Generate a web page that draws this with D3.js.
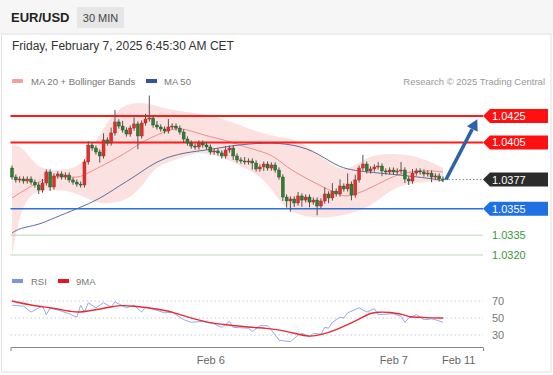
<!DOCTYPE html>
<html>
<head>
<meta charset="utf-8">
<script src="https://cdn.jsdelivr.net/npm/d3@7"></script>
<style>
  html, body { margin: 0; padding: 0; background: #fff; }
  body { font-family: "Liberation Sans", Arial, sans-serif; }
</style>
</head>
<body>
<div id="chart"></div>
<script>
// candle closes (30 min bars), open of each bar = previous close
const firstOpen = 1.03857;
const closes = [
  1.03789, 1.03767, 1.03774, 1.03759, 1.03774, 1.03751, 1.03729, 1.03691, 1.03744, 1.03827,
  1.03714, 1.03797, 1.03812, 1.03789, 1.03804, 1.03767, 1.03751, 1.03736, 1.03729, 1.03903,
  1.04031, 1.04008, 1.03978, 1.03948, 1.04069, 1.04046, 1.04122, 1.04205, 1.04174, 1.04144,
  1.04114, 1.04159, 1.04190, 1.04099, 1.04197, 1.04227, 1.04235, 1.04182, 1.04167, 1.04152,
  1.04137, 1.04167, 1.04174, 1.04159, 1.04129, 1.04076, 1.04046, 1.04023, 1.04016, 1.04046,
  1.04031, 1.04016, 1.03978, 1.03986, 1.03971, 1.03948, 1.03993, 1.04008, 1.03948, 1.03918,
  1.03910, 1.03903, 1.03910, 1.03895, 1.03850, 1.03865, 1.03887, 1.03857, 1.03880, 1.03842,
  1.03789, 1.03638, 1.03608, 1.03623, 1.03593, 1.03646, 1.03615, 1.03638, 1.03600, 1.03615,
  1.03570, 1.03608, 1.03661, 1.03631, 1.03683, 1.03661, 1.03721, 1.03699, 1.03736, 1.03653,
  1.03767, 1.03857, 1.03887, 1.03835, 1.03850, 1.03865, 1.03872, 1.03835, 1.03827, 1.03842,
  1.03827, 1.03835, 1.03842, 1.03774, 1.03759, 1.03819, 1.03835, 1.03827, 1.03812, 1.03819,
  1.03789, 1.03797, 1.03774, 1.0377
];
// wick length above / below the body, in pips
const wickUp = [
  2,2,2,2,2,2,2,2,3,2, 2,2,2,2,2,2,2,2,2,2,
  3,2,2,2,5,2,4,9,2,4, 2,2,5,2,2,4,17,2,3,2,
  2,6,2,2,2,2,2,2,2,2, 2,2,2,2,2,2,3,2,2,2,
  2,3,2,2,2,2,2,2,2,2, 2,2,2,2,2,3,2,2,2,2,
  2,2,5,2,6,2,5,2,8,2, 4,2,7,2,2,2,3,2,2,2,
  2,2,6,2,2,3,2,2,2,2, 2,2,2,2
];
const wickDn = [
  2,2,2,2,2,2,2,3,2,2, 3,2,2,2,2,2,2,2,2,2,
  2,2,2,5,2,2,2,2,2,2, 2,2,2,10,2,2,2,2,2,2,
  2,2,2,2,2,3,2,2,2,2, 2,2,2,2,2,2,2,2,3,2,
  2,2,2,5,2,2,3,2,2,2, 2,3,5,8,3,2,5,2,4,2,
  7,2,2,4,2,2,2,2,2,4, 2,2,2,2,2,2,2,4,2,2,
  2,2,2,3,3,2,2,2,2,2, 4,2,2,2
];

// indicator readings [bar index, value]
const ma20 = [[0,1.03631],[5,1.03721],[9,1.03782],[13,1.03797],[17,1.03782],[19,1.03804],[23,1.03865],
  [28,1.03940],[31,1.03993],[34,1.04054],[38,1.04106],[41,1.04144],[44,1.04159],[47,1.04137],
  [52,1.04091],[56,1.04069],[61,1.04016],[66,1.03978],[69,1.03940],[73,1.03842],[78,1.03767],
  [82,1.03706],[86,1.03653],[88,1.03638],[93,1.03691],[98,1.03767],[102,1.03819],[108,1.03842],[113,1.03827]];
const ma50 = [[0,1.03366],[2,1.03404],[7,1.03427],[11,1.03480],[17,1.03548],[23,1.03623],[28,1.03721],
  [32,1.03789],[36,1.03872],[40,1.03933],[45,1.03971],[49,1.03986],[53,1.04001],[57,1.04023],
  [64,1.04046],[72,1.04046],[79,1.03993],[85,1.03872],[89,1.03842],[93,1.03827],[102,1.03804],
  [111,1.03774],[113,1.03759]];
const bandUpper = [[0,1.04031],[3,1.04016],[6,1.03880],[9,1.03842],[14,1.03842],[18,1.03872],[21,1.04008],
  [24,1.04159],[27,1.04280],[30,1.04341],[34,1.04356],[38,1.04326],[42,1.04295],[47,1.04273],
  [52,1.04258],[56,1.04220],[61,1.04167],[66,1.04114],[70,1.04091],[73,1.04084],[78,1.04016],
  [82,1.03918],[86,1.03842],[89,1.03857],[93,1.03940],[98,1.03971],[106,1.03955],[113,1.03857]];
const bandLower = [[0,1.03200],[2,1.03502],[4,1.03631],[7,1.03691],[14,1.03691],[18,1.03653],[23,1.03578],
  [28,1.03600],[31,1.03631],[35,1.03744],[37,1.03865],[45,1.03940],[49,1.03978],[53,1.03955],
  [57,1.03918],[61,1.03857],[66,1.03782],[70,1.03615],[73,1.03517],[78,1.03487],[82,1.03480],
  [86,1.03495],[89,1.03517],[94,1.03563],[99,1.03691],[104,1.03744],[113,1.03759]];

const rsi = [[0,65],[3,64],[5,57],[7,62],[8,64],[9,54],[10,62],[13,58],[15,55],[17,51],[18,65],[19,57],
  [20,68],[22,62],[24,68],[26,63],[27,69],[30,62],[32,65],[34,57],[35,63],[38,59],[40,56],[42,57],
  [45,48],[47,45],[50,46],[53,43],[55,39],[57,46],[58,39],[62,38],[63,34],[65,41],[67,41],[68,36],
  [70,24],[73,22],[75,30],[76,32],[78,28],[79,32],[81,31],[82,39],[83,38],[84,45],[85,48],[86,51],
  [87,50],[88,56],[91,62],[93,57],[95,61],[96,54],[100,55],[102,52],[103,45],[104,50],[106,54],
  [108,48],[110,49],[111,48],[113,45]];
const rsiMa = [[0,70],[5,65],[10,62],[14,59],[17,56],[21,59],[26,63],[28,65],[32,64],[36,62],[40,59],
  [42,57],[46,51],[51,45],[56,42],[62,39],[67,38],[70,36],[72,34],[76,30],[78,28],[81,30],[85,36],
  [89,44],[92,51],[94,56],[96,57],[99,57],[103,54],[104,51],[107,51],[110,50],[113,50]];
const rsiLevels = [70, 50, 30];

const resistances = [1.0425, 1.0405];
const support = 1.0355;
const minorSupports = [1.0335, 1.0320];
const lastPrice = 1.0377;
const arrowTarget = [122, 1.04225];

const xTicks = [52, 100, 117];
const xTickLabels = ["Feb 6", "Feb 7", "Feb 11"];

const width = 553, height = 375;
const svg = d3.select("#chart").append("svg")
  .attr("width", width).attr("height", height)
  .style("display", "block")
  .style("font-family", '"Liberation Sans", Arial, sans-serif');

// header
svg.append("rect").attr("x", 0).attr("y", 0).attr("width", width).attr("height", 34).attr("fill", "#f6f6f6");
svg.append("rect").attr("x", 1.5).attr("y", 34).attr("width", 549.5).attr("height", 338)
  .attr("fill", "#fff").attr("stroke", "#e0e0e0");
svg.append("text").attr("x", 11).attr("y", 22).text("EUR/USD")
  .attr("font-size", 13).attr("font-weight", "bold").attr("fill", "#222");
svg.append("rect").attr("x", 77).attr("y", 7).attr("width", 47).attr("height", 21).attr("fill", "#e6e6e6");
svg.append("text").attr("x", 100.5).attr("y", 22).attr("text-anchor", "middle").text("30 MIN")
  .attr("font-size", 11).attr("fill", "#444");
svg.append("text").attr("x", 12).attr("y", 50).text("Friday, February 7, 2025 6:45:30 AM CET")
  .attr("font-size", 12).attr("fill", "#333");

// legend
const lg = svg.append("g").attr("font-size", 9.5).attr("fill", "#777");
lg.append("rect").attr("x", 12).attr("y", 79).attr("width", 11).attr("height", 4).attr("rx", 1).attr("fill", "#f4a0a0");
lg.append("text").attr("x", 31).attr("y", 85).text("MA 20 + Bollinger Bands");
lg.append("rect").attr("x", 146).attr("y", 79).attr("width", 11).attr("height", 4).attr("fill", "#2f5597");
lg.append("text").attr("x", 164).attr("y", 85).text("MA 50");
lg.append("text").attr("x", 545).attr("y", 85).attr("text-anchor", "end").attr("fill", "#999").text("Research \u00a9 2025 Trading Central");

// scales
const x = d3.scaleLinear().domain([0, 113]).range([12, 443]);
const y = d3.scaleLinear().domain([1.0320, 1.0425]).range([255, 116]);
const ry = d3.scaleLinear().domain([30, 70]).range([335, 301]);
const left = 10.5, right = 483;
const pip = 0.0001;

// bollinger band area
const lineGen = d3.line().curve(d3.curveBasis).x(d => x(d[0])).y(d => y(d[1]));
const upPath = lineGen(bandUpper);
const loPath = lineGen(bandLower.slice().reverse());
svg.append("path")
  .attr("fill", "#fbd9d9").attr("opacity", 0.8)
  .attr("d", upPath + "L" + loPath.slice(1) + "Z");

svg.append("path").datum(ma20).attr("fill", "none").attr("stroke", "#f08c8c").attr("stroke-width", 1).attr("d", lineGen);
svg.append("path").datum(ma50).attr("fill", "none").attr("stroke", "#5a6d9c").attr("stroke-width", 1).attr("d", lineGen);

// level lines
svg.selectAll(".res").data(resistances).join("line")
  .attr("x1", left).attr("x2", right).attr("y1", d => y(d)).attr("y2", d => y(d))
  .attr("stroke", "#ff1a1a").attr("stroke-width", 2);
svg.append("line").attr("x1", left).attr("x2", right).attr("y1", y(support)).attr("y2", y(support))
  .attr("stroke", "#2f6fd6").attr("stroke-width", 1.5);
svg.selectAll(".minor").data(minorSupports).join("line")
  .attr("x1", left).attr("x2", right).attr("y1", d => y(d)).attr("y2", d => y(d))
  .attr("stroke", "#b5d8b5").attr("stroke-width", 1);

// candles
const bars = closes.map((c, i) => {
  const o = i === 0 ? firstOpen : closes[i - 1];
  return { i, o, c, h: Math.max(o, c) + wickUp[i] * pip, l: Math.min(o, c) - wickDn[i] * pip };
});
const cg = svg.append("g");
cg.selectAll("line").data(bars).join("line")
  .attr("x1", d => x(d.i)).attr("x2", d => x(d.i))
  .attr("y1", d => y(d.h)).attr("y2", d => y(d.l))
  .attr("stroke", "#555").attr("stroke-width", 1);
cg.selectAll("rect").data(bars).join("rect")
  .attr("x", d => x(d.i) - 1.5).attr("width", 3)
  .attr("y", d => y(Math.max(d.o, d.c)))
  .attr("height", d => Math.max(1, Math.abs(y(d.o) - y(d.c))))
  .attr("fill", d => d.c >= d.o ? "#e0302a" : "#2e7d32")
  .attr("stroke", d => d.c >= d.o ? "#a32020" : "#1d5220").attr("stroke-width", 0.4);

// last price dotted line
svg.append("line").attr("x1", x(113) + 2).attr("x2", right).attr("y1", y(lastPrice)).attr("y2", y(lastPrice))
  .attr("stroke", "#888").attr("stroke-dasharray", "1.5,2");

// forecast arrow
const ax0 = x(113) + 3, ay0 = y(lastPrice), ax1 = x(arrowTarget[0]), ay1 = y(arrowTarget[1]);
const ang = Math.atan2(ay1 - ay0, ax1 - ax0);
const hl = 11, hw = 6;
const bx = ax1 - hl * Math.cos(ang), by = ay1 - hl * Math.sin(ang);
svg.append("line").attr("x1", ax0).attr("y1", ay0).attr("x2", bx).attr("y2", by)
  .attr("stroke", "#2c62a8").attr("stroke-width", 3.5);
svg.append("path").attr("fill", "#2c62a8")
  .attr("d", `M${ax1},${ay1}L${bx + hw * Math.sin(ang)},${by - hw * Math.cos(ang)}L${bx - hw * Math.sin(ang)},${by + hw * Math.cos(ang)}Z`);

// price tags
function tag(v, bg, fg) {
  const yy = y(v);
  svg.append("path").attr("fill", bg)
    .attr("d", `M${right},${yy}L${right + 7},${yy - 7}H548V${yy + 7}H${right + 7}Z`);
  svg.append("text").attr("x", right + 9).attr("y", yy + 4).text(v.toFixed(4))
    .attr("font-size", 11).attr("fill", fg);
}
resistances.forEach(v => tag(v, "#ff1010", "#fff"));
tag(lastPrice, "#2b2b2b", "#fff");
tag(support, "#1f6fe5", "#fff");
minorSupports.forEach(v => {
  svg.append("text").attr("x", right + 9).attr("y", y(v) + 4).text(v.toFixed(4))
    .attr("font-size", 11).attr("fill", "#3a9a3a");
});

// RSI panel
const rl = svg.append("g").attr("font-size", 9.5).attr("fill", "#777");
rl.append("rect").attr("x", 12).attr("y", 279).attr("width", 11).attr("height", 4).attr("fill", "#7c95dd");
rl.append("text").attr("x", 31).attr("y", 285).text("RSI");
rl.append("rect").attr("x", 58).attr("y", 279).attr("width", 11).attr("height", 4).attr("fill", "#e8141e");
rl.append("text").attr("x", 76).attr("y", 285).text("9MA");

svg.selectAll(".rg").data(rsiLevels).join("line")
  .attr("x1", left).attr("x2", right).attr("y1", d => ry(d)).attr("y2", d => ry(d))
  .attr("stroke", "#c5cbe0").attr("stroke-dasharray", "1.5,2.5");
svg.selectAll(".rt").data(rsiLevels).join("text")
  .attr("x", 492).attr("y", d => ry(d) + 4).text(d => d)
  .attr("font-size", 11).attr("fill", "#777");

const rLine = d3.line().x(d => x(d[0])).y(d => ry(d[1]));
svg.append("path").datum(rsi).attr("fill", "none").attr("stroke", "#97acea").attr("stroke-width", 1).attr("d", rLine);
svg.append("path").datum(rsiMa).attr("fill", "none").attr("stroke", "#ea2a36").attr("stroke-width", 1.4)
  .attr("d", d3.line().curve(d3.curveBasis).x(d => x(d[0])).y(d => ry(d[1])));

// time axis
const ax = x.copy().domain([x.invert(left), x.invert(right)]).range([left, right]);
const axis = svg.append("g").attr("transform", "translate(0,347)")
  .call(d3.axisBottom(ax).tickValues(xTicks).tickSizeInner(0).tickSizeOuter(4).tickPadding(9)
    .tickFormat((d, k) => xTickLabels[k]));
axis.select(".domain").attr("stroke", "#888");
axis.selectAll("text").attr("font-size", 11).attr("fill", "#666")
  .style("font-family", '"Liberation Sans", Arial, sans-serif');
</script>
</body>
</html>
